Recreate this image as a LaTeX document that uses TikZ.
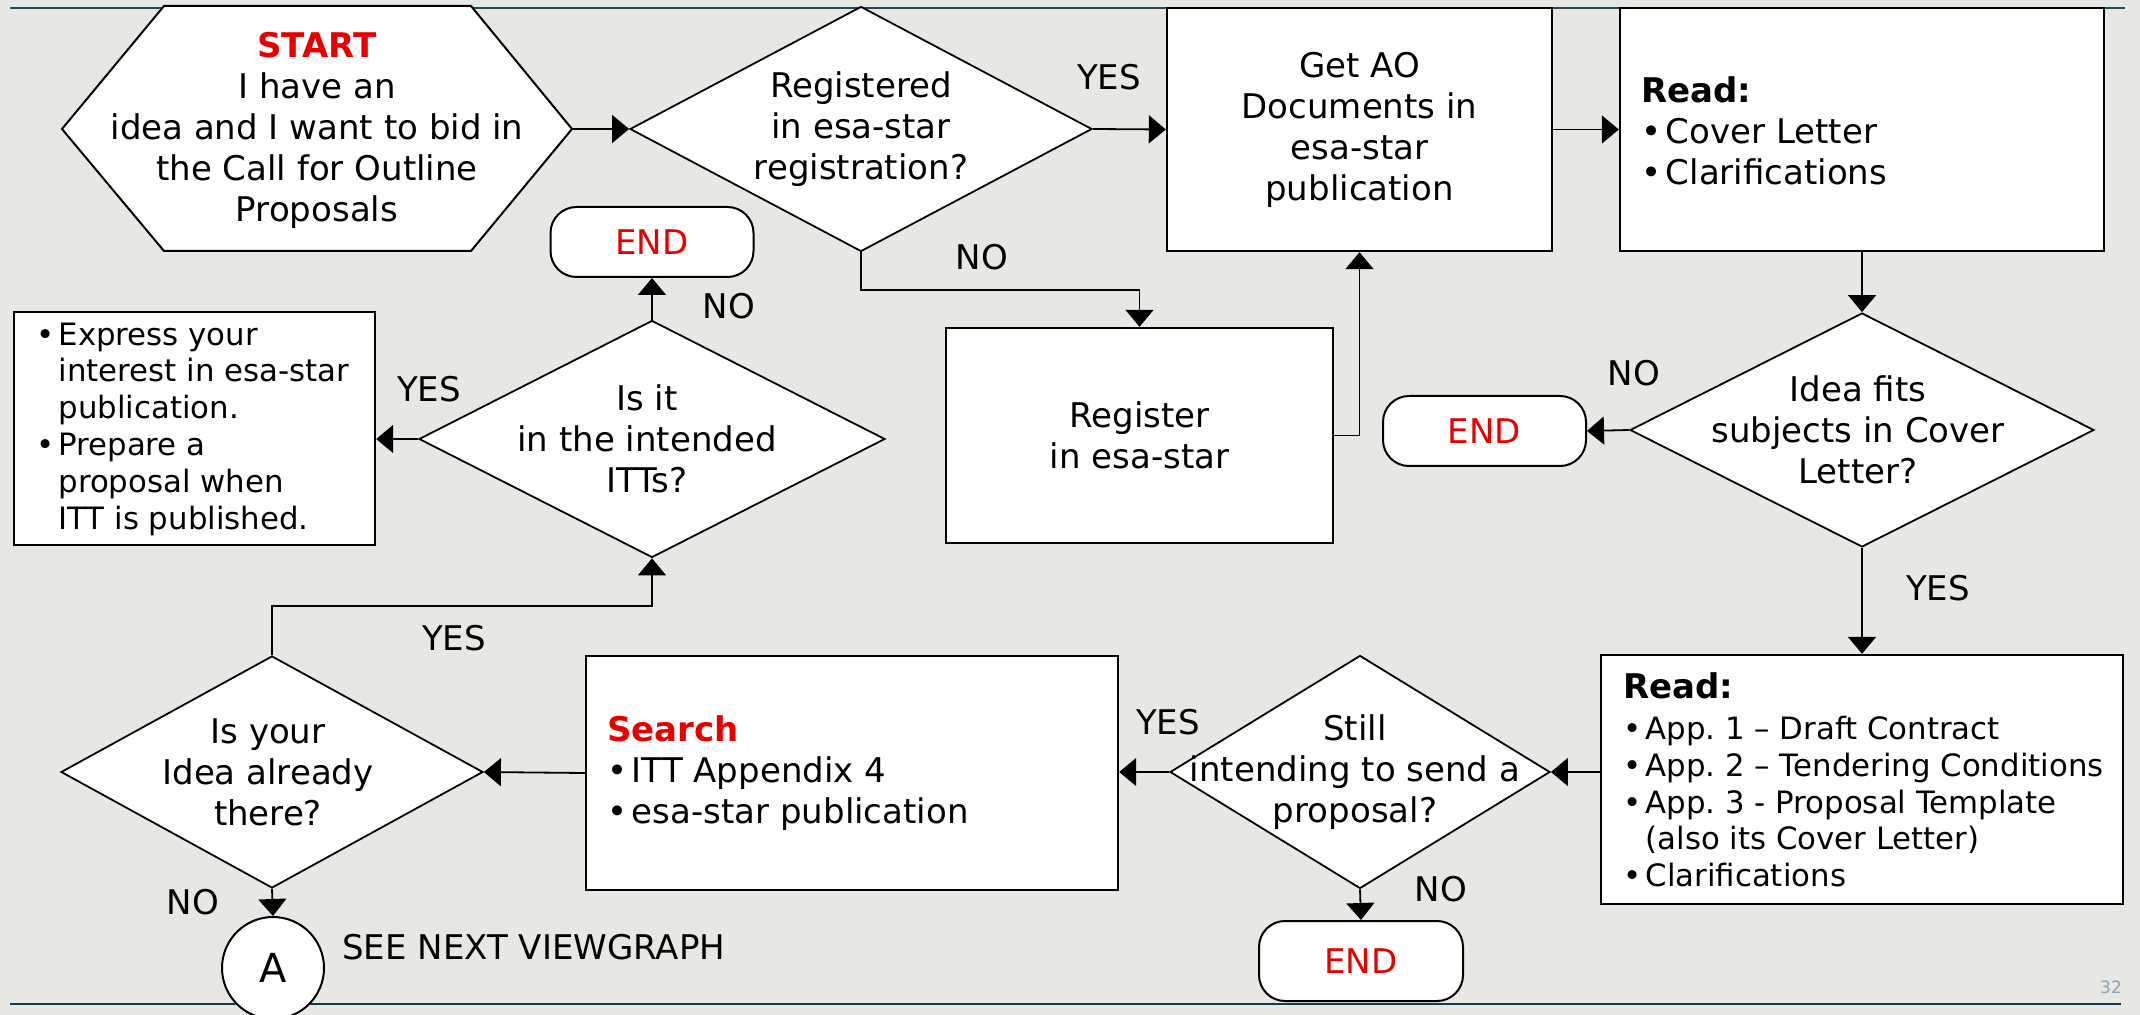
\documentclass[tikz,border=0pt]{standalone}
\usepackage{fontspec}
\setmainfont{DejaVu Sans}
\usetikzlibrary{shapes.geometric,arrows.meta}
\definecolor{bg}{RGB}{231,231,227}
\definecolor{myred}{RGB}{230,0,0}
\definecolor{rulecol}{RGB}{28,75,100}
\definecolor{rulecolb}{RGB}{18,58,82}
\definecolor{pagecol}{RGB}{140,160,180}
\newcommand\mybul{\makebox[0.72em][l]{•}}
\newcommand\myind{\hspace*{0.72em}}
\begin{document}
\begin{tikzpicture}[x=0.5pt,y=-0.5pt,
  box/.style={draw, fill=white, line width=1.2pt, inner sep=0pt},
  dia/.style={diamond, draw, fill=white, line width=0.9pt, inner sep=0pt},
  term/.style={draw, fill=white, line width=1pt, rounded corners=13pt, inner sep=0pt,
    minimum width=101.5pt, minimum height=35pt, text=myred, font=\fontsize{17}{20.5}\selectfont},
  txt/.style={align=center, inner sep=0pt, font=\fontsize{17}{20.5}\selectfont},
  ltxt/.style={align=left, inner sep=0pt, anchor=west, font=\fontsize{17}{20.5}\selectfont},
  stxt/.style={align=left, inner sep=0pt, anchor=west, font=\fontsize{15.4}{18.4}\selectfont},
  lab/.style={inner sep=0pt, font=\fontsize{17}{20.5}\selectfont},
  conn/.style={line width=0.9pt, -{Triangle[length=8.5pt,width=14pt]}}
]
\useasboundingbox (0,0) rectangle (2140,1015);
\fill[bg] (0,0) rectangle (2140,1015);
% rules
\draw[rulecol, line width=1.1pt] (10,8.3) -- (2125,8.3);
\draw[rulecolb, line width=1.3pt] (10,1004) -- (2121,1004);

% start hexagon
\coordinate (hL) at (62,129);
\coordinate (hR) at (572,129);
\draw[draw, fill=white, line width=1pt] (hL) -- (164,6) -- (471,6) -- (hR) -- (471,251) -- (164,251) -- cycle;
\node[txt] (start) at (317,130) {\textcolor{myred}{\bfseries START}\\I have an\\idea and I want to bid in\\the Call for Outline\\Proposals};

% diamonds
\node[dia, minimum width=231pt, minimum height=122.5pt] (regd) at (861,129) {};
\node[txt] (regdt) at (regd.center) {Registered\\in esa-star\\registration?};
\node[dia, minimum width=232pt, minimum height=117pt] (ideafit) at (1862,430) {};
\node[txt] (ideafitt) at (1858,430) {Idea fits\\subjects in Cover\\Letter?};
\node[dia, minimum width=233pt, minimum height=118.5pt] (isit) at (652,439) {};
\node[txt] (isitt) at (647,439) {Is it\\in the intended\\ITTs?};
\node[dia, minimum width=211pt, minimum height=116pt] (isyour) at (272,772) {};
\node[txt] (isyourt) at (268,772) {Is your\\Idea already\\there?};
\node[dia, minimum width=190pt, minimum height=116.5pt] (still) at (1360,772) {};
\node[txt] (stillt) at (1355,772) {Still\\intending to send a\\proposal?};

% boxes
\node[box, txt, minimum width=192.5pt, minimum height=121.5pt] (getao) at (1359.5,129.5) {Get AO\\Documents in\\esa-star\\publication};
\node[box, minimum width=242pt, minimum height=121.5pt] (read1) at (1862,129.5) {};
\node[ltxt] (read1t) at (1641,131) {{\bfseries Read:}\\\mybul Cover Letter\\\mybul Clarifications};
\node[box, txt, minimum width=193.5pt, minimum height=107.5pt] (register) at (1139.5,435.5) {Register\\in esa-star};
\node[box, minimum width=180.5pt, minimum height=116.5pt] (leftbox) at (194.5,428.5) {};
\node[stxt] (leftt) at (36,429) {\mybul Express your\\\myind interest in esa-star\\\myind publication.\\\mybul Prepare a\\\myind proposal when\\\myind ITT is published.};
\node[box, minimum width=266pt, minimum height=117pt] (search) at (852,773) {};
\node[ltxt] (searcht) at (607,773) {\textcolor{myred}{\bfseries Search}\\\mybul ITT Appendix 4\\\mybul esa-star publication};
\node[box, minimum width=261pt, minimum height=124.5pt] (read2) at (1862,779.5) {};
\node[stxt] (read2t) at (1623,780) {{\fontsize{17}{20.5}\selectfont\bfseries Read:}\\[2pt]\mybul App.~1 – Draft Contract\\\mybul App.~2 – Tendering Conditions\\\mybul App.~3 - Proposal Template\\\myind(also its Cover Letter)\\\mybul Clarifications};

% terminals
\node[term] (end1) at (652,242) {END};
\node[term] (end2) at (1484.5,431) {END};
\node[term, minimum width=102pt, minimum height=40pt] (end3) at (1361,961) {END};
\node[draw, fill=white, circle, line width=1pt, minimum size=51pt, inner sep=0pt,
  font=\fontsize{20}{24}\selectfont] (circA) at (273,968) {A};

% connectors
\draw[conn] (hR) -- (regd.west);
\draw[conn] (regd.east) -- (getao.west);
\draw[conn] (getao.east) -- (getao.east -| read1.west);
\draw[conn] (read1.south) -- (ideafit.north);
\draw[conn] (ideafit.west) -- (end2.east);
\draw[conn] (ideafit.south) -- (read2.north);
\draw[conn] (still.east -| read2.west) -- (still.east);
\draw[conn] (still.west) -- (still.west -| search.east);
\draw[conn] (still.south) -- (end3.north);
\draw[conn] (search.west) -- (isyour.east);
\draw[conn] (isyour.south) -- (circA.north);
\coordinate (c1) at (272,606);
\draw[conn] (isyour.north) -- (c1) -| (isit.south);
\draw[conn] (isit.north) -- (end1.south);
\draw[conn] (isit.west) -- (isit.west -| leftbox.east);
\coordinate (c2) at (861,290);
\draw[conn] (regd.south) -- (c2) -| (register.north);
\draw[conn] (register.east) -| (getao.south);

% labels
\node[lab] (l1) at (1109,77) {YES};
\node[lab] (l2) at (982,257) {NO};
\node[lab] (l3) at (729,306) {NO};
\node[lab] (l4) at (429,389) {YES};
\node[lab] (l5) at (1634,373) {NO};
\node[lab] (l6) at (1938,588) {YES};
\node[lab] (l7) at (1168,722) {YES};
\node[lab] (l8) at (1441,889) {NO};
\node[lab] (l9) at (454,638) {YES};
\node[lab] (l10) at (193,902) {NO};
\node[lab, anchor=west] (see) at (342,947) {SEE NEXT VIEWGRAPH};
\node[inner sep=0pt, font=\fontsize{8.5}{10}\selectfont, text=pagecol] (pg) at (2111,987) {32};
\end{tikzpicture}
\end{document}
